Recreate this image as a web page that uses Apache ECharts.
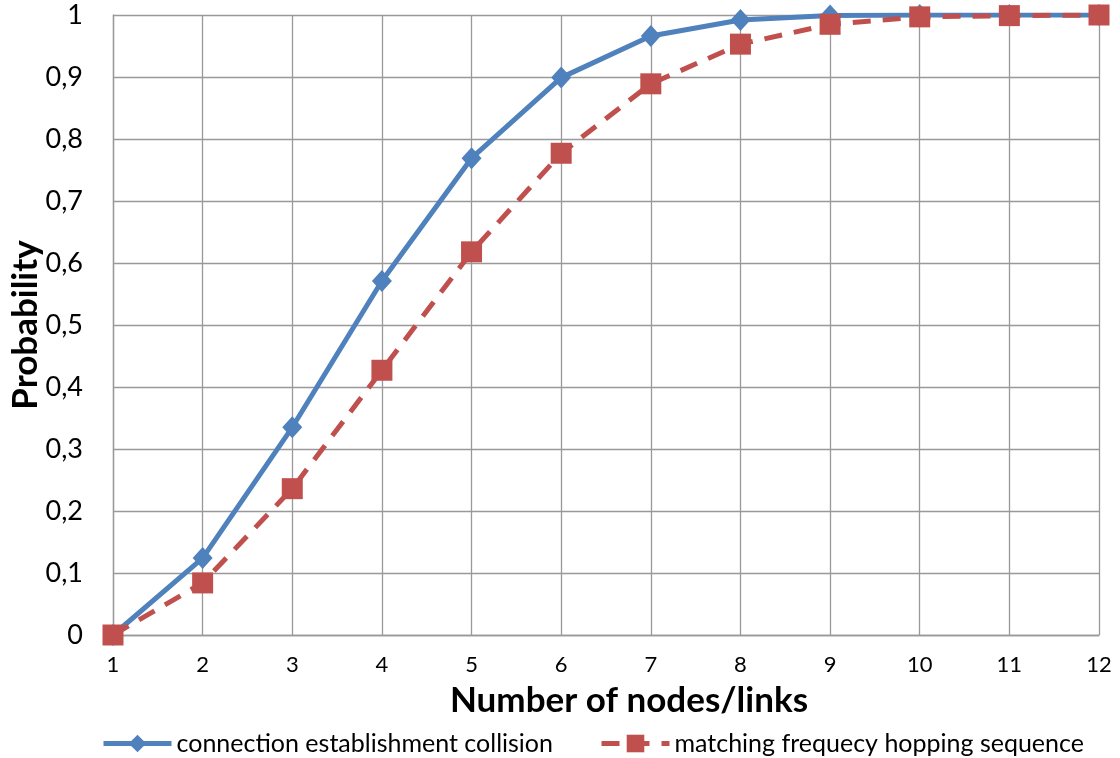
<!DOCTYPE html>
<html><head><meta charset="utf-8">
<script src="https://cdn.jsdelivr.net/npm/echarts@6/dist/echarts.min.js"></script>
<style>html,body{margin:0;padding:0;background:#fff}#c{width:1120px;height:758px}</style>
</head><body><div id="c"></div>
<script>
const xValues = [1,2,3,4,5,6,7,8,9,10,11,12];
const collisionValues = [0,0.124,0.335,0.571,0.769,0.899,0.966,0.992,0.999,1,1,1];
const matchingValues = [0,0.084,0.236,0.427,0.618,0.777,0.889,0.953,0.985,0.997,0.999,1];
const seriesNames = ['connection establishment collision','matching frequecy hopping sequence'];
const xTitle = 'Number of nodes/links';
const yTitle = 'Probability';

const chart = echarts.init(document.getElementById('c'));
const F = 'Lato, "Open Sans", sans-serif';
const legendText = {fontFamily:F,fontSize:25,color:'#000'};
chart.setOption({
  animation:false,
  grid:{left:113,right:21,top:15,bottom:123,containLabel:false,outerBoundsMode:'none'},
  xAxis:{type:'value',min:1,max:12,interval:1,
    name:xTitle,nameLocation:'middle',nameGap:48,nameMoveOverlap:false,
    nameTextStyle:{fontFamily:F,fontSize:35,fontWeight:'bold',color:'#000',padding:[0,0,0,46]},
    axisLine:{show:true,lineStyle:{color:'#999',width:1.3}},
    axisTick:{show:false},
    axisLabel:{fontFamily:F,fontSize:22,color:'#000',margin:19},
    splitLine:{show:true,lineStyle:{color:'#999',width:1.3}}},
  yAxis:{type:'value',min:0,max:1,interval:0.1,
    name:yTitle,nameLocation:'middle',nameGap:70,nameMoveOverlap:false,
    nameTextStyle:{fontFamily:F,fontSize:35,fontWeight:'bold',color:'#000'},
    axisLine:{show:true,lineStyle:{color:'#999',width:1.3}},
    axisTick:{show:false},
    axisLabel:{fontFamily:F,fontSize:27,color:'#000',margin:30,
      formatter:v=>String(Math.round(v*10)/10).replace('.',',')},
    splitLine:{show:true,lineStyle:{color:'#999',width:1.3}}},
  legend:[
    {top:726,left:96,itemWidth:68,itemHeight:22,textStyle:legendText,lineStyle:{width:5},data:[seriesNames[0]]},
    {top:726,left:594,itemWidth:68,itemHeight:22,textStyle:legendText,lineStyle:{width:5},data:[seriesNames[1]]}
  ],
  series:[
    {name:seriesNames[0],type:'line',data:xValues.map((x,i)=>[x,collisionValues[i]]),
     symbol:'diamond',symbolSize:[20,22],
     lineStyle:{color:'#4F81BD',width:5},itemStyle:{color:'#4F81BD'}},
    {name:seriesNames[1],type:'line',data:xValues.map((x,i)=>[x,matchingValues[i]]),
     symbol:'rect',symbolSize:21,
     lineStyle:{color:'#C0504D',width:5,type:[18,12]},itemStyle:{color:'#C0504D'}}
  ]
});
</script></body></html>
